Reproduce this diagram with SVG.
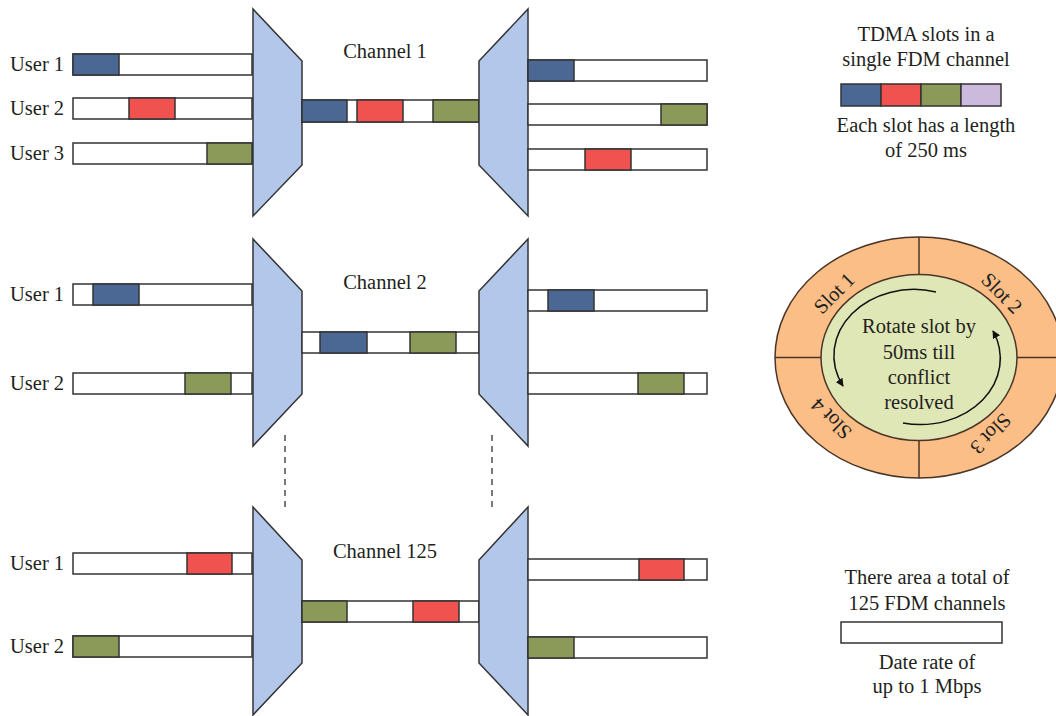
<svg xmlns="http://www.w3.org/2000/svg" width="1056" height="716" viewBox="0 0 1056 716">
<style>
text{font-family:"Liberation Serif","DejaVu Serif",serif;font-size:20.5px;fill:#231f20}
.c{text-anchor:middle}
.bar{fill:#fff;stroke:#333;stroke-width:1.5}
.b{fill:#4b6894;stroke:#333;stroke-width:1.5}
.r{fill:#f0524f;stroke:#333;stroke-width:1.5}
.g{fill:#8b9a58;stroke:#333;stroke-width:1.5}
.l{fill:#ccbadd;stroke:#333;stroke-width:1.5}
.mux{fill:#b2c7e9;stroke:#333;stroke-width:1.5}
.dash{stroke:#333;stroke-width:1.3;stroke-dasharray:6 5;fill:none}
.ln{stroke:#4a3528;stroke-width:1.5;fill:none}
.arc{stroke:#111;stroke-width:1.5;fill:none;marker-end:url(#ah)}
</style>
<defs>
<marker id="ah" viewBox="0 0 10 10" refX="9" refY="5" markerWidth="8" markerHeight="8" orient="auto" markerUnits="userSpaceOnUse">
<path d="M0,0 L10,5 L0,10 z" fill="#111"/>
</marker>
</defs>

<g id="block1">
<text x="10" y="71">User 1</text>
<text x="10" y="115">User 2</text>
<text x="10" y="160">User 3</text>
<rect class="bar" x="73" y="54" width="179" height="21"/><rect class="b" x="73" y="54" width="46" height="21"/>
<rect class="bar" x="73" y="98" width="179" height="21"/><rect class="r" x="129" y="98" width="46" height="21"/>
<rect class="bar" x="73" y="143" width="179" height="21"/><rect class="g" x="207" y="143" width="45" height="21"/>
<polygon class="mux" points="253,9 302,61 302,165 253,216"/>
<rect class="bar" x="302" y="100" width="177" height="22"/>
<rect class="b" x="302" y="100" width="45" height="22"/><rect class="r" x="357" y="100" width="46" height="22"/><rect class="g" x="433" y="100" width="46" height="22"/>
<text class="c" x="385" y="58">Channel 1</text>
<polygon class="mux" points="528,9 479,61 479,165 528,216"/>
<rect class="bar" x="528" y="60" width="179" height="21"/><rect class="b" x="528" y="60" width="46" height="21"/>
<rect class="bar" x="528" y="104" width="179" height="21"/><rect class="g" x="661" y="104" width="46" height="21"/>
<rect class="bar" x="528" y="149" width="179" height="21"/><rect class="r" x="585" y="149" width="46" height="21"/>
</g>

<g id="block2">
<text x="10" y="301">User 1</text>
<text x="10" y="390">User 2</text>
<rect class="bar" x="73" y="284" width="179" height="21"/><rect class="b" x="93" y="284" width="46" height="21"/>
<rect class="bar" x="73" y="373" width="179" height="21"/><rect class="g" x="185" y="373" width="46" height="21"/>
<polygon class="mux" points="253,239 302,291 302,394 253,446"/>
<rect class="bar" x="302" y="332" width="177" height="21"/>
<rect class="b" x="320" y="332" width="47" height="21"/><rect class="g" x="410" y="332" width="46" height="21"/>
<text class="c" x="385" y="289">Channel 2</text>
<polygon class="mux" points="528,239 479,291 479,394 528,446"/>
<rect class="bar" x="528" y="290" width="179" height="21"/><rect class="b" x="548" y="290" width="46" height="21"/>
<rect class="bar" x="528" y="373" width="179" height="21"/><rect class="g" x="638" y="373" width="46" height="21"/>
</g>

<g id="connectors">
<line class="dash" x1="285" y1="435" x2="285" y2="512"/>
<line class="dash" x1="492" y1="435" x2="492" y2="512"/>
</g>

<g id="block3">
<text x="10" y="570">User 1</text>
<text x="10" y="653">User 2</text>
<rect class="bar" x="73" y="553" width="179" height="21"/><rect class="r" x="187" y="553" width="45" height="21"/>
<rect class="bar" x="73" y="636" width="179" height="21"/><rect class="g" x="73" y="636" width="46" height="21"/>
<polygon class="mux" points="253,507 302,560 302,663 253,715"/>
<rect class="bar" x="302" y="601" width="177" height="21"/>
<rect class="g" x="302" y="601" width="45" height="21"/><rect class="r" x="413" y="601" width="46" height="21"/>
<text class="c" x="385" y="558">Channel 125</text>
<polygon class="mux" points="528,507 479,560 479,663 528,715"/>
<rect class="bar" x="528" y="559" width="179" height="21"/><rect class="r" x="639" y="559" width="45" height="21"/>
<rect class="bar" x="528" y="637" width="179" height="21"/><rect class="g" x="528" y="637" width="46" height="21"/>
</g>

<g id="legend-tdma">
<text class="c" x="926" y="41">TDMA slots in a</text>
<text class="c" x="926" y="66">single FDM channel</text>
<rect class="b" x="841" y="84" width="40" height="22"/>
<rect class="r" x="881" y="84" width="40" height="22"/>
<rect class="g" x="921" y="84" width="40" height="22"/>
<rect class="l" x="961" y="84" width="40" height="22"/>
<text class="c" x="926" y="132">Each slot has a length</text>
<text class="c" x="926" y="157">of 250 ms</text>
</g>

<g id="slot-wheel">
<ellipse cx="919" cy="357.5" rx="144" ry="120.5" fill="#fbbe87" stroke="#4a3528" stroke-width="1.5"/>
<line class="ln" x1="919" y1="237" x2="919" y2="274"/>
<line class="ln" x1="919" y1="441" x2="919" y2="478"/>
<line class="ln" x1="775" y1="357.5" x2="821" y2="357.5"/>
<line class="ln" x1="1017" y1="357.5" x2="1063" y2="357.5"/>
<ellipse cx="919" cy="357.5" rx="98" ry="83" fill="#e0e7b6" stroke="#4a3528" stroke-width="1.5"/>
<text class="c" transform="translate(839,298) rotate(-45)">Slot 1</text>
<text class="c" transform="translate(997,298) rotate(45)">Slot 2</text>
<text class="c" transform="translate(986,429) rotate(135)">Slot 3</text>
<text class="c" transform="translate(836,414) rotate(-135)">Slot 4</text>
<text class="c" x="919" y="333">Rotate slot by</text>
<text class="c" x="919" y="359">50ms till</text>
<text class="c" x="919" y="384">conflict</text>
<text class="c" x="919" y="409">resolved</text>
<path class="arc" d="M936,292 A80,66 0 0 0 843,386"/>
<path class="arc" d="M903,423 A80,66 0 0 0 993,331"/>
</g>

<g id="legend-fdm">
<text class="c" x="927" y="584">There area a total of</text>
<text class="c" x="927" y="610">125 FDM channels</text>
<rect class="bar" x="841" y="622" width="161" height="21"/>
<text class="c" x="927" y="669">Date rate of</text>
<text class="c" x="927" y="693">up to 1 Mbps</text>
</g>
</svg>
